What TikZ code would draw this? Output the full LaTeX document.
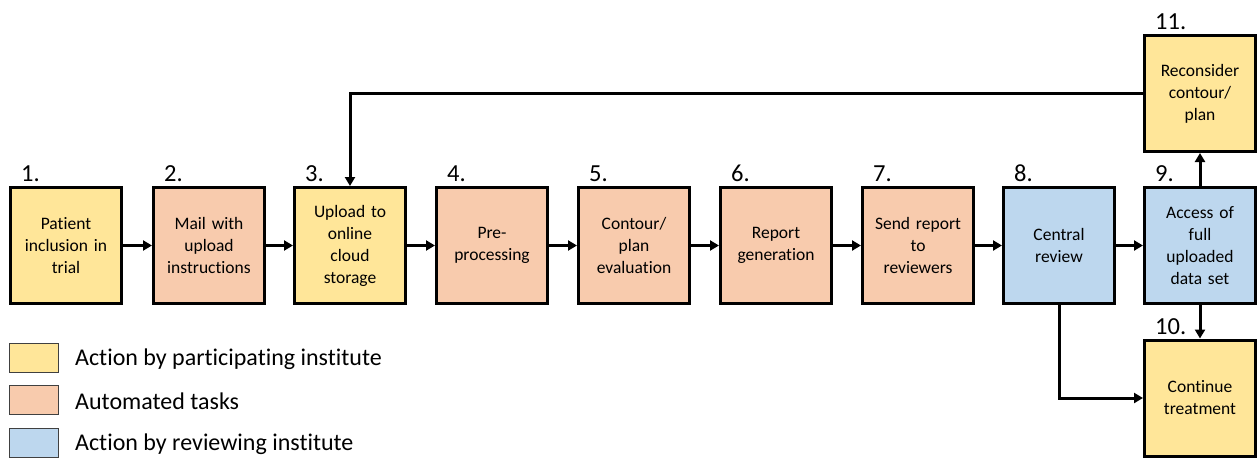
\documentclass[tikz,border=0pt]{standalone}
\usepackage{fontspec}
\setmainfont[Ligatures=NoCommon]{Carlito}
\usetikzlibrary{arrows.meta}
\definecolor{cyel}{HTML}{FFE699}
\definecolor{corg}{HTML}{F8CBAD}
\definecolor{cblu}{HTML}{BDD7EE}
\begin{document}
\begin{tikzpicture}[x=1pt,y=-1pt,
  box/.style={draw=black, line width=3pt, minimum width=111pt, minimum height=116pt,
    align=center, text width=106pt, inner sep=2pt, font=\fontsize{17.5}{22}\selectfont},
  num/.style={font=\fontsize{24.5}{24}\selectfont, anchor=south west, inner sep=0pt},
  arr/.style={line width=3pt, -{Triangle[length=9pt,width=10pt]}},
  legbox/.style={draw=black!75, line width=1.5pt, minimum width=49pt, minimum height=29pt, inner sep=0pt},
  legtext/.style={anchor=west, inner sep=0pt, font=\fontsize{24}{24}\selectfont}]
\useasboundingbox (0,0) rectangle (1258,460);
\node[box, fill=cyel] (b1) at (66,245.5) {Patient\\inclusion in\\trial};
\node[box, fill=corg] (b2) at (209,245.5) {Mail with\\upload\\instructions};
\node[box, fill=cyel] (b3) at (350,245.5) {Upload to\\online\\cloud\\storage};
\node[box, fill=corg] (b4) at (492,245.5) {Pre-\\processing};
\node[box, fill=corg] (b5) at (634,245.5) {Contour/\\plan\\evaluation};
\node[box, fill=corg] (b6) at (776,245.5) {Report\\generation};
\node[box, fill=corg] (b7) at (918,245.5) {Send report\\to\\reviewers};
\node[box, fill=cblu] (b8) at (1059,245.5) {Central\\review};
\node[box, fill=cblu] (b9) at (1200,245.5) {Access of\\full\\uploaded\\data set};
\node[box, fill=cyel] (b10) at (1200,398) {Continue\\treatment};
\node[box, fill=cyel] (b11) at (1200,93.5) {Reconsider\\contour/\\plan};
\foreach \n/\t in {1/1., 2/2., 3/3., 4/4., 5/5., 6/6., 7/7., 8/8., 9/9., 10/10., 11/11.}
  \node[num] (n\n) at ([shift={(12,-4)}]b\n.north west) {\t};
\draw[arr] (b1) -- (b2);
\draw[arr] (b2) -- (b3);
\draw[arr] (b3) -- (b4);
\draw[arr] (b4) -- (b5);
\draw[arr] (b5) -- (b6);
\draw[arr] (b6) -- (b7);
\draw[arr] (b7) -- (b8);
\draw[arr] (b8) -- (b9);
\draw[arr] (b9) -- (b11);
\draw[arr] (b9) -- (b10);
\draw[arr] (b11.west) -| (b3.north);
\draw[arr] (b8.south) |- (b10.west);
\node[legbox, fill=cyel] (l1) at (34,358) {};
\node[legbox, fill=corg] (l2) at (34,400) {};
\node[legbox, fill=cblu] (l3) at (34,443) {};
\node[legtext] (t1) at (75,359) {Action by participating institute};
\node[legtext] (t2) at (75,401) {Automated tasks};
\node[legtext] (t3) at (75,444) {Action by reviewing institute};
\end{tikzpicture}
\end{document}
